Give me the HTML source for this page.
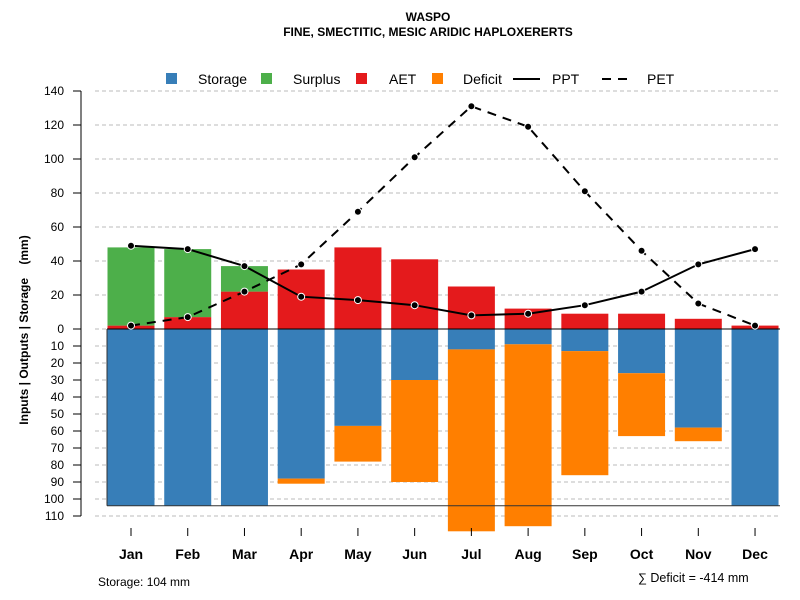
<!DOCTYPE html>
<html><head><meta charset="utf-8"><style>
body{margin:0;background:#fff}
svg{font-family:"Liberation Sans",Arial,sans-serif;display:block}
</style></head><body>
<svg id="c" width="800" height="600">
<text x="428" y="21" text-anchor="middle" font-size="12" font-weight="bold">WASPO</text>
<text x="428" y="36" text-anchor="middle" font-size="12" font-weight="bold">FINE, SMECTITIC, MESIC ARIDIC HAPLOXERERTS</text>
<g id="grid"></g><g id="bars"></g><g id="lines"></g><g id="axes"></g>
<g font-size="14">
<rect x="166" y="73" width="11" height="11" fill="#377eb8"/>
<text x="198" y="84">Storage</text>
<rect x="261" y="73" width="11" height="11" fill="#4daf4a"/>
<text x="293" y="84">Surplus</text>
<rect x="356" y="73" width="11" height="11" fill="#e41a1c"/>
<text x="389" y="84">AET</text>
<rect x="432" y="73" width="11" height="11" fill="#ff7f00"/>
<text x="463" y="84">Deficit</text>
<line x1="513" y1="79" x2="540" y2="79" stroke="#000" stroke-width="2"/>
<text x="552" y="84">PPT</text>
<line x1="602" y1="79" x2="629" y2="79" stroke="#000" stroke-width="2" stroke-dasharray="9,7"/>
<text x="647" y="84">PET</text>
</g>
<text transform="translate(28,330) rotate(-90)" text-anchor="middle" font-size="12" font-weight="bold" style="white-space:pre">Inputs | Outputs | Storage    (mm)</text>
<text x="98" y="586" font-size="12">Storage: 104 mm</text>
<text x="638" y="582" font-size="12.5">∑ Deficit = -414 mm</text>
</svg>
<script>
const months=["Jan","Feb","Mar","Apr","May","Jun","Jul","Aug","Sep","Oct","Nov","Dec"];
const aet=[2,7,22,35,48,41,25,12,9,9,6,2];
const surplus=[46,40,15,0,0,0,0,0,0,0,0,0];
const storage=[104,104,104,88,57,30,12,9,13,26,58,104];
const deficit=[0,0,0,3,21,60,107,107,73,37,8,0];
const ppt=[49,47,37,19,17,14,8,9,14,22,38,47];
const pet=[2,7,22,38,69,101,131,119,81,46,15,2];
const upTicks=[0,20,40,60,80,100,120,140];
const downTicks=[10,20,30,40,50,60,70,80,90,100,110];
const totalStorage=104;
const NS="http://www.w3.org/2000/svg";
const y0=329,k=1.7;
const y=v=>y0-v*k;
const x=i=>131+i*56.73;
const bw=47;
function el(p,t,a){const e=document.createElementNS(NS,t);for(const q in a)e.setAttribute(q,a[q]);document.getElementById(p).appendChild(e);return e;}
el("axes","line",{x1:81,y1:y(140),x2:81,y2:y(-110),stroke:"#000"});
upTicks.forEach(v=>{
 const g=el("grid","line",{x1:95,y1:y(v),x2:780,y2:y(v),stroke:"#bbb","stroke-dasharray":"4,3"});
 
 
 el("axes","line",{x1:73,y1:y(v),x2:81,y2:y(v),stroke:"#000"});
 const t=el("axes","text",{x:64,y:y(v)+4,"text-anchor":"end","font-size":12});t.textContent=v;
 
 
});
downTicks.forEach(v=>{
 const g=el("grid","line",{x1:95,y1:y(-v),x2:780,y2:y(-v),stroke:"#bbb","stroke-dasharray":"4,3"});
 
 
 el("axes","line",{x1:73,y1:y(-v),x2:81,y2:y(-v),stroke:"#000"});
 const t=el("axes","text",{x:64,y:y(-v)+4,"text-anchor":"end","font-size":12});t.textContent=v;
 
 
});
months.forEach((m,i)=>{
 const cx=x(i),l=cx-bw/2;
 const r=(h0,h1,c,n)=>{const e=el("bars","rect",{x:l,y:y(Math.max(h0,h1)),width:bw,height:Math.abs(h1-h0)*k,fill:c});
  
  };
 if(aet[i])r(0,aet[i],"#e41a1c","aet-bar-"+m.toLowerCase());
 if(surplus[i])r(aet[i],aet[i]+surplus[i],"#4daf4a","surplus-bar-"+m.toLowerCase());
 if(storage[i])r(0,-storage[i],"#377eb8","storage-bar-"+m.toLowerCase());
 if(deficit[i])r(-storage[i],-storage[i]-deficit[i],"#ff7f00","deficit-bar-"+m.toLowerCase());
 el("axes","line",{x1:cx,y1:528,x2:cx,y2:536,stroke:"#000"});
 const t=el("axes","text",{x:cx,y:559,"text-anchor":"middle","font-size":14,"font-weight":"bold"});t.textContent=m;
 
 
});
el("bars","line",{x1:107,y1:y0,x2:780,y2:y0,stroke:"#000"});
el("bars","line",{x1:107,y1:y(-totalStorage),x2:780,y2:y(-totalStorage),stroke:"#333"});
el("bars","line",{x1:107,y1:y0,x2:107,y2:y(-totalStorage),stroke:"#333"});
const pp=el("lines","polyline",{points:ppt.map((v,i)=>x(i)+","+y(v)).join(" "),fill:"none",stroke:"#000","stroke-width":2});


const pe=el("lines","polyline",{points:pet.map((v,i)=>x(i)+","+y(v)).join(" "),fill:"none",stroke:"#000","stroke-width":2,"stroke-dasharray":"9,7"});


[ppt,pet].forEach((s,j)=>s.forEach((v,i)=>{
 const c=el("lines","circle",{cx:x(i),cy:y(v),r:3.5,fill:"#000",stroke:"#fff","stroke-width":1});
 
 
}));
</script>
</body></html>
